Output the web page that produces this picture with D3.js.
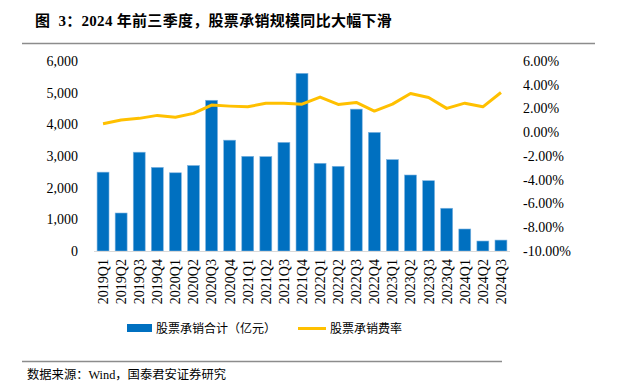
<!DOCTYPE html>
<html><head><meta charset="utf-8">
<script src="https://cdn.jsdelivr.net/npm/d3@7"></script>
<style>body{margin:0;background:#fff}svg{display:block}</style>
</head><body>
<svg id="c" width="617" height="381"></svg>
<script>
const categories = ["2019Q1","2019Q2","2019Q3","2019Q4","2020Q1","2020Q2","2020Q3","2020Q4","2021Q1","2021Q2","2021Q3","2021Q4","2022Q1","2022Q2","2022Q3","2022Q4","2023Q1","2023Q2","2023Q3","2023Q4","2024Q1","2024Q2","2024Q3"];
const underwriting = [2490,1200,3120,2640,2470,2700,4760,3500,2990,2980,3430,5610,2770,2675,4480,3745,2885,2400,2220,1350,695,315,345];
const feeRate = [0.72,1.03,1.17,1.42,1.26,1.59,2.29,2.20,2.14,2.45,2.45,2.36,2.96,2.34,2.51,1.78,2.37,3.27,2.93,2.01,2.45,2.14,3.35];
const leftTicks = [0,1000,2000,3000,4000,5000,6000];
const rightTicks = [6,4,2,0,-2,-4,-6,-8,-10];
const titleText = "图  3：2024 年前三季度，股票承销规模同比大幅下滑";
const legendLabels = ["股票承销合计（亿元）","股票承销费率"];
const sourceText = "数据来源：Wind，国泰君安证券研究";

const svg = d3.select("#c");
const serif = "'Liberation Serif','Times New Roman','Noto Sans CJK SC',serif";
const cjk = "'Liberation Serif','Noto Sans CJK SC',sans-serif";

const x0 = 94, x1 = 510, yTop = 61, yBot = 251;
const x = d3.scaleBand().domain(categories).range([x0, x1]).paddingInner(0.34).paddingOuter(0.17);
const yL = d3.scaleLinear().domain([0, 6000]).range([yBot, yTop]);
const yR = d3.scaleLinear().domain([-10, 6]).range([yBot, yTop]);

// title
svg.append("text").attr("x", 35).attr("y", 26).attr("font-family", cjk)
  .attr("font-size", 15).attr("font-weight", "bold").attr("letter-spacing", 0.3)
  .style("white-space", "pre")
  .attr("fill", "#000").text(titleText);
svg.append("line").attr("x1", 22).attr("x2", 595).attr("y1", 43.5).attr("y2", 43.5)
  .attr("stroke", "#8c8c8c").attr("stroke-width", 1.5);

// bars
svg.append("g").selectAll("rect").data(categories).join("rect")
  .attr("x", d => x(d)).attr("width", x.bandwidth())
  .attr("y", (d, i) => yL(underwriting[i])).attr("height", (d, i) => yBot - yL(underwriting[i]))
  .attr("fill", "#0070C0").attr("stroke", "#7fb4e0").attr("stroke-width", 0.6);

// x axis
const xa = svg.append("g").attr("transform", `translate(0,${yBot})`)
  .call(d3.axisBottom(x).tickSize(0).tickPadding(0));
xa.select(".domain").attr("stroke", "#d9d9d9").attr("stroke-width", 1.2)
  .attr("d", `M${x0},0.5H${x1}`);
xa.selectAll("text").attr("font-family", serif).attr("font-size", 14).attr("fill", "#000")
  .attr("transform", "rotate(-90)").attr("text-anchor", "end")
  .attr("x", -8).attr("y", 0).attr("dy", "0.35em");

// left axis
const la = svg.append("g").attr("transform", `translate(${x0},0)`)
  .call(d3.axisLeft(yL).tickValues(leftTicks).tickSize(0).tickPadding(16).tickFormat(d3.format(",")));
la.select(".domain").remove();
la.selectAll("text").attr("font-family", serif).attr("font-size", 14).attr("fill", "#000");

// right axis
const ra = svg.append("g").attr("transform", `translate(${x1},0)`)
  .call(d3.axisRight(yR).tickValues(rightTicks).tickSize(0).tickPadding(13).tickFormat(d => d.toFixed(2) + "%"));
ra.select(".domain").remove();
ra.selectAll("text").attr("font-family", serif).attr("font-size", 14).attr("fill", "#000");

// line
const line = d3.line().x((d, i) => x(categories[i]) + x.bandwidth() / 2).y(d => yR(d));
svg.append("path").datum(feeRate).attr("d", line).attr("fill", "none")
  .attr("stroke", "#FFC000").attr("stroke-width", 3).attr("stroke-linejoin", "round");

// legend
const lg = svg.append("g");
lg.append("rect").attr("x", 127).attr("y", 324).attr("width", 25).attr("height", 8).attr("fill", "#0070C0");
lg.append("text").attr("x", 156).attr("y", 333).attr("font-family", cjk).attr("font-size", 12).text(legendLabels[0]);
lg.append("line").attr("x1", 298).attr("x2", 326).attr("y1", 328.5).attr("y2", 328.5)
  .attr("stroke", "#FFC000").attr("stroke-width", 3);
lg.append("text").attr("x", 330).attr("y", 333).attr("font-family", cjk).attr("font-size", 12).text(legendLabels[1]);

// footer
svg.append("line").attr("x1", 22).attr("x2", 502).attr("y1", 361.5).attr("y2", 361.5)
  .attr("stroke", "#8c8c8c").attr("stroke-width", 1.5);
svg.append("text").attr("x", 27).attr("y", 379).attr("font-family", cjk).attr("font-size", 12.3).text(sourceText);
</script>
</body></html>
